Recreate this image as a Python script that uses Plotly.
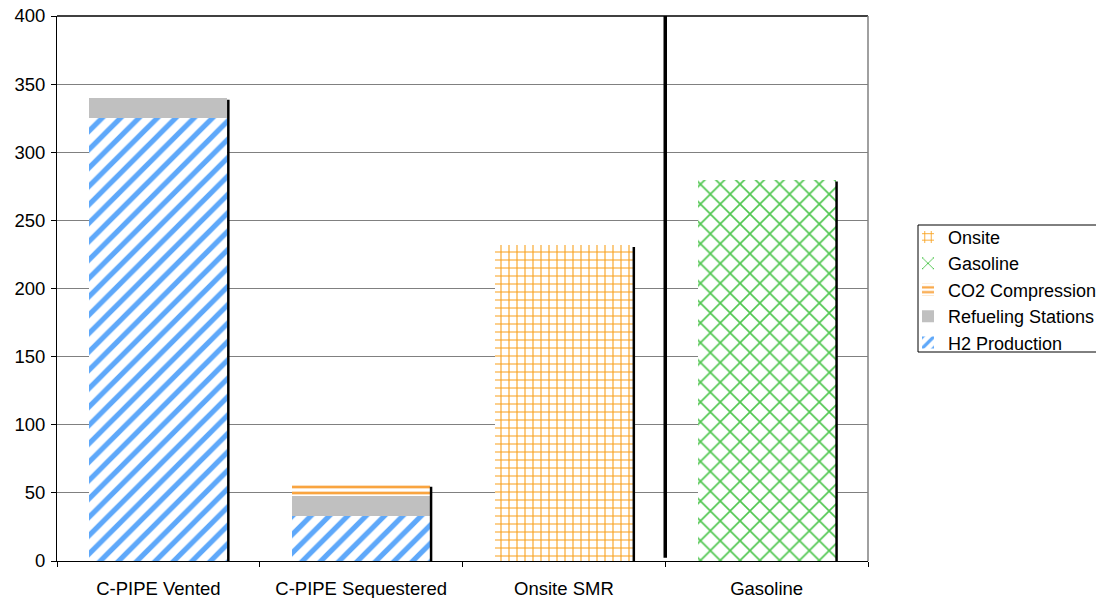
import plotly.graph_objects as go

categories = ["C-PIPE Vented", "C-PIPE Sequestered", "Onsite SMR", "Gasoline"]
h2_production = [325, 33, None, None]
refueling_stations = [15, 15, None, None]
co2_compression = [None, 8, None, None]
gasoline = [None, None, None, 280]
onsite = [None, None, 232, None]
y_ticks = [0, 50, 100, 150, 200, 250, 300, 350, 400]

font = "Liberation Sans, Arial, sans-serif"
fs = 18.5
fig = go.Figure()

def add(name, vals, color, rank, shape=None, bg="white", size=10, sol=0.3):
    if shape:
        marker = dict(color=bg, pattern=dict(shape=shape, fgcolor=color, bgcolor=bg,
                                            fgopacity=1, size=size, solidity=sol,
                                            fillmode="replace"),
                      line=dict(width=0))
    else:
        marker = dict(color=color, line=dict(width=0))
    fig.add_trace(go.Bar(name=name, x=categories, y=vals, marker=marker, legendrank=rank))

add("H2 Production", h2_production, "#5EA8FA", 5, "/", size=13, sol=0.4)
add("Refueling Stations", refueling_stations, "#C0C0C0", 4)
add("CO2 Compression", co2_compression, "#F9A440", 3, "-", size=6, sol=0.45)
add("Gasoline", gasoline, "#4FC64F", 2, "x", size=14, sol=0.22)
add("Onsite", onsite, "#F9A01A", 1, "+", size=8, sol=0.25)

# bar shadow lines (right edge), derived from stacked totals
totals = []
for i in range(len(categories)):
    s = 0
    for arr in (h2_production, refueling_stations, co2_compression, gasoline, onsite):
        if arr[i] is not None:
            s += arr[i]
    totals.append(s)
for i, t in enumerate(totals):
    fig.add_shape(type="line", xref="x", yref="y", x0=i + 0.345, x1=i + 0.345,
                  y0=0, y1=t - 1.5, line=dict(color="black", width=2.5))

# separator line between Onsite SMR and Gasoline
fig.add_shape(type="line", xref="x", yref="paper", x0=2.5, x1=2.5, y0=0.006, y1=1,
              line=dict(color="black", width=3.5))

fig.update_layout(
    width=1096, height=598,
    margin=dict(l=57, r=228, t=16, b=37, autoexpand=False),
    barmode="stack", bargap=0.32,
    plot_bgcolor="white", paper_bgcolor="white",
    font=dict(family=font, size=fs, color="black"),
    showlegend=True,
    legend=dict(traceorder="normal", x=(908 - 57) / 811, y=0.628, xanchor="left", yanchor="top",
                borderwidth=0, bgcolor="rgba(0,0,0,0)",
                font=dict(family=font, size=18, color="black"),
                itemwidth=30, tracegroupgap=0),
    xaxis=dict(showline=True, linecolor="black", linewidth=1, ticks="outside",
               tickson="boundaries", ticklen=5, tickcolor="black", mirror=False,
               tickfont=dict(size=fs), range=[-0.5, 3.5], ticklabelstandoff=11),
    yaxis=dict(range=[0, 400], tickvals=y_ticks, showgrid=True, gridcolor="#808080",
               gridwidth=1, showline=True, linecolor="black", linewidth=1,
               ticks="outside", ticklen=5, tickcolor="black", zeroline=False,
               tickfont=dict(size=fs), ticklabelstandoff=2),
)
# plot frame: top black, right gray
fig.add_shape(type="line", xref="paper", yref="paper", x0=0, x1=1, y0=1, y1=1,
              line=dict(color="black", width=1.5))
fig.add_shape(type="line", xref="paper", yref="paper", x0=1, x1=1, y0=0, y1=1,
              line=dict(color="#808080", width=1.5))
# legend border box
fig.add_shape(type="rect", xref="paper", yref="paper",
              x0=(918 - 57) / 811, x1=(1100 - 57) / 811,
              y0=(561 - 352) / 545, y1=(561 - 225) / 545,
              line=dict(color="black", width=1), fillcolor="rgba(0,0,0,0)", layer="below")

fig.write_html("out.html")
